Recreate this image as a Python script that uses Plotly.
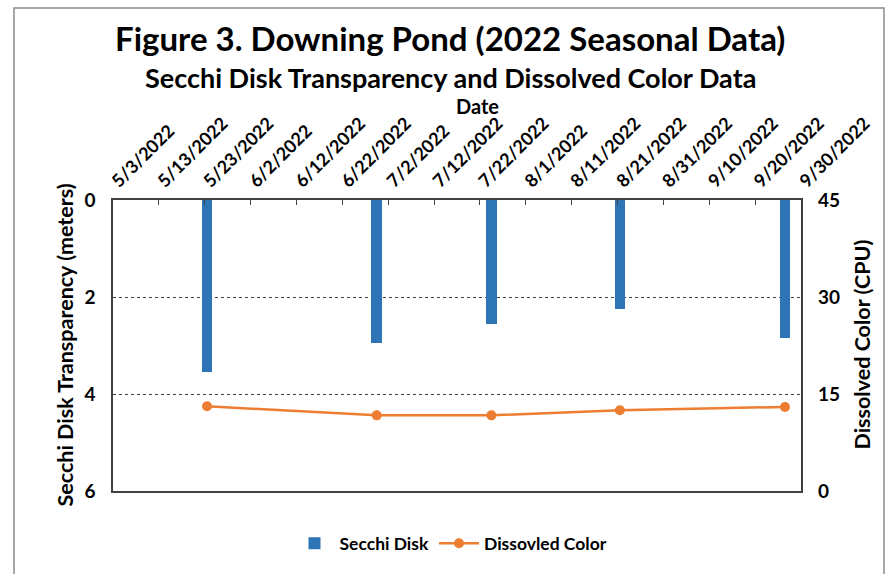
import plotly.graph_objects as go

# Sampling dates and measurements for Downing Pond, 2022 season
sample_dates = ["2022-05-23", "2022-06-29", "2022-07-24", "2022-08-21", "2022-09-26"]
secchi_m = [3.55, 2.95, 2.55, 2.25, 2.85]
color_cpu = [13.1, 11.7, 11.7, 12.5, 13.0]

# Axis ranges / ticks
x_start, x_end = "2022-05-03", "2022-09-30"
secchi_range = [6, 0]
color_range = [0, 45]

DAY_MS = 86400000
FONT = "Lato"
INK = "#000000"
AXIS_LINE = "#404040"

fig = go.Figure()

fig.add_trace(go.Bar(
    x=sample_dates, y=secchi_m, name="Secchi Disk",
    marker=dict(color="#2E75B6", line=dict(width=0)),
    width=2.3 * DAY_MS, xperiod=DAY_MS, xperiodalignment="middle",
    yaxis="y",
))

fig.add_trace(go.Scatter(
    x=sample_dates, y=color_cpu, name="Dissovled Color",
    mode="lines+markers",
    line=dict(color="#ED7D31", width=2.5),
    marker=dict(color="#ED7D31", size=10),
    xperiod=DAY_MS, xperiodalignment="middle",
    yaxis="y2",
))

# plot-area geometry in pixels, used to place the free text
L, R, T, B = 113, 91, 200, 80
W, H = 892, 574
PW, PH = W - L - R, H - T - B


def px_x(x):
    return (x - L) / PW


def px_y(y):
    return (H - B - y) / PH


def bold(size):
    return dict(family=FONT, size=size, color=INK, weight="bold")


fig.update_layout(
    width=W, height=H, autosize=False,
    margin=dict(l=L, r=R, t=T, b=B, pad=0),
    paper_bgcolor="white", plot_bgcolor="white",
    bargap=0,
    showlegend=True,
    legend=dict(
        orientation="h", x=px_x(451), xanchor="center",
        y=px_y(547), yanchor="middle",
        font=bold(17.5), bgcolor="rgba(0,0,0,0)",
        itemwidth=40,
    ),
    xaxis=dict(
        type="date", side="top",
        range=[x_start, x_end],
        tick0=x_start, dtick=10 * DAY_MS,
        tickformat="%-m/%-d/%Y", tickangle=-45,
        ticks="inside", ticklen=5, tickcolor=AXIS_LINE, tickwidth=1,
        showline=True, linecolor=AXIS_LINE, linewidth=1.5, mirror=True,
        showgrid=False, zeroline=False,
        tickfont=bold(18),
    ),
    yaxis=dict(
        range=secchi_range, tick0=0, dtick=2,
        showgrid=True, gridcolor=AXIS_LINE, griddash="dot", gridwidth=1,
        showline=True, linecolor=AXIS_LINE, linewidth=1.5, mirror=True,
        zeroline=False, ticks="",
        tickfont=bold(19), ticklabelstandoff=12,
    ),
    yaxis2=dict(
        overlaying="y", side="right",
        range=color_range, tick0=0, dtick=15,
        showgrid=False, zeroline=False, showline=False, ticks="",
        tickfont=bold(19), ticklabelstandoff=16,
    ),
    annotations=[
        dict(text="Figure 3. Downing Pond (2022 Seasonal Data)",
             x=px_x(450), y=px_y(36), xref="paper", yref="paper",
             showarrow=False, font=bold(33), xanchor="center", yanchor="middle"),
        dict(text="Secchi Disk Transparency and Dissolved Color Data",
             x=px_x(450), y=px_y(76), xref="paper", yref="paper",
             showarrow=False, font=bold(27), xanchor="center", yanchor="middle"),
        dict(text="Date",
             x=px_x(477), y=px_y(105), xref="paper", yref="paper",
             showarrow=False, font=bold(20), xanchor="center", yanchor="middle"),
        dict(text="Secchi Disk Transparency (meters)",
             x=px_x(64), y=px_y(347), xref="paper", yref="paper",
             showarrow=False, font=bold(21.5), textangle=-90,
             xanchor="center", yanchor="middle"),
        dict(text="Dissolved Color (CPU)",
             x=px_x(862), y=px_y(346), xref="paper", yref="paper",
             showarrow=False, font=bold(21.5), textangle=-90,
             xanchor="center", yanchor="middle"),
    ],
    shapes=[
        dict(type="rect", xref="paper", yref="paper",
             x0=px_x(14), x1=px_x(884), y0=px_y(600), y1=px_y(6),
             line=dict(color="#8c8c8c", width=1.5), fillcolor="rgba(0,0,0,0)",
             layer="above"),
    ],
)

fig.write_html("out.html")
